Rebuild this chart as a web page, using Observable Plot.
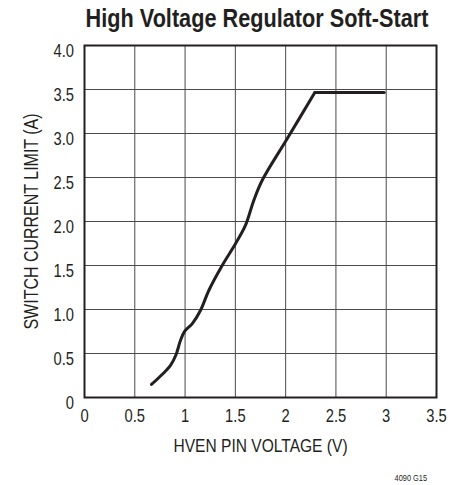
<!DOCTYPE html>
<html><head><meta charset="utf-8">
<script src="https://cdn.jsdelivr.net/npm/d3@7"></script>
<script src="https://cdn.jsdelivr.net/npm/@observablehq/plot@0.6"></script>
<style>
body{margin:0;background:#fff;}
#chart{width:461px;height:485px;}
</style></head><body><div id="chart"></div>
<script>
const voltage = [0.666, 0.772, 0.855, 0.911, 0.954, 0.997, 1.070, 1.153, 1.236, 1.369, 1.501, 1.600, 1.683, 1.766, 2.015, 2.29, 2.29, 2.98];
const current = [0.148, 0.261, 0.364, 0.489, 0.648, 0.754, 0.837, 0.989, 1.216, 1.500, 1.747, 1.955, 2.239, 2.466, 2.940, 3.465, 3.465, 3.465];
const segment = ["rise","rise","rise","rise","rise","rise","rise","rise","rise","rise","rise","rise","rise","rise","rise","rise","flat","flat"];
const xTicks = [0, 0.5, 1, 1.5, 2, 2.5, 3, 3.5];
const xTickLabels = ["0", "0.5", "1", "1.5", "2", "2.5", "3", "3.5"];
const yTicks = [0, 0.5, 1, 1.5, 2, 2.5, 3, 3.5, 4];
const yTickLabels = ["0", "0.5", "1.0", "1.5", "2.0", "2.5", "3.0", "3.5", "4.0"];
const title = "High Voltage Regulator Soft-Start";
const xLabel = "HVEN PIN VOLTAGE (V)";
const yLabel = "SWITCH CURRENT LIMIT (A)";
const note = "4090 G15";

const rows = voltage.map((v, i) => ({v, a: current[i], s: segment[i]}));
const font = "'Liberation Sans',Arial,sans-serif";
const ink = "#231f20";

const plot = Plot.plot({
  width: 461, height: 485,
  marginTop: 45, marginBottom: 88, marginLeft: 84, marginRight: 25,
  style: {fontFamily: font, fontSize: "18px", color: ink, background: "#fff"},
  x: {domain: [0, 3.5]},
  y: {domain: [0, 4]},
  marks: [
    Plot.gridX(xTicks, {stroke: "#4a4a4a", strokeOpacity: 1, strokeWidth: 1}),
    Plot.gridY(yTicks, {stroke: "#4a4a4a", strokeOpacity: 1, strokeWidth: 1}),
    Plot.frame({stroke: ink, strokeWidth: 2}),
    Plot.axisX({ticks: xTicks, tickFormat: d => xTickLabels[xTicks.indexOf(d)], tickSize: 0, tickPadding: 12, label: null, fontSize: 18}),
    Plot.axisY({ticks: yTicks, tickFormat: d => yTickLabels[yTicks.indexOf(d)], tickSize: 0, tickPadding: 10.5, dy: 6, label: null, fontSize: 18}),
    Plot.line(rows.filter(d => d.s === "rise"), {x: "v", y: "a", stroke: ink, strokeWidth: 3, curve: "catmull-rom"}),
    Plot.line(rows.filter(d => d.s === "flat"), {x: "v", y: "a", stroke: ink, strokeWidth: 3}),
    Plot.text([xLabel], {frameAnchor: "bottom", dy: 54, lineAnchor: "bottom", fontSize: 19, fill: ink}),
    Plot.text([yLabel], {frameAnchor: "left", textAnchor: "middle", rotate: -90, dx: -60, lineAnchor: "top", fontSize: 19.5, fill: ink}),
    Plot.text([title], {frameAnchor: "top", textAnchor: "middle", dx: -3.5, dy: -19, lineAnchor: "bottom", fontSize: 25, fontWeight: "bold", fill: ink}),
    Plot.text([note], {frameAnchor: "bottom-right", textAnchor: "end", dx: -9.5, dy: 83, lineAnchor: "bottom", fontSize: 9, fill: ink})
  ]
});
document.getElementById("chart").appendChild(plot);

// Emulate a condensed (narrow) typeface by horizontally compressing each text run.
const svg = plot.tagName.toLowerCase() === "svg" ? plot : plot.querySelector("svg");
svg.querySelectorAll("text").forEach(t => {
  const len = t.getComputedTextLength();
  if (!len) return;
  const k = t.textContent === title ? 343 / len : 0.82;
  const tr = t.getAttribute("transform") || "";
  const hasX = t.hasAttribute("x") && +t.getAttribute("x") !== 0;
  if (tr.includes("translate") && !hasX) {
    t.setAttribute("transform", tr + ` scale(${k},1)`);
  } else {
    t.setAttribute("textLength", len * k);
    t.setAttribute("lengthAdjust", "spacingAndGlyphs");
  }
});
</script>
</body></html>
